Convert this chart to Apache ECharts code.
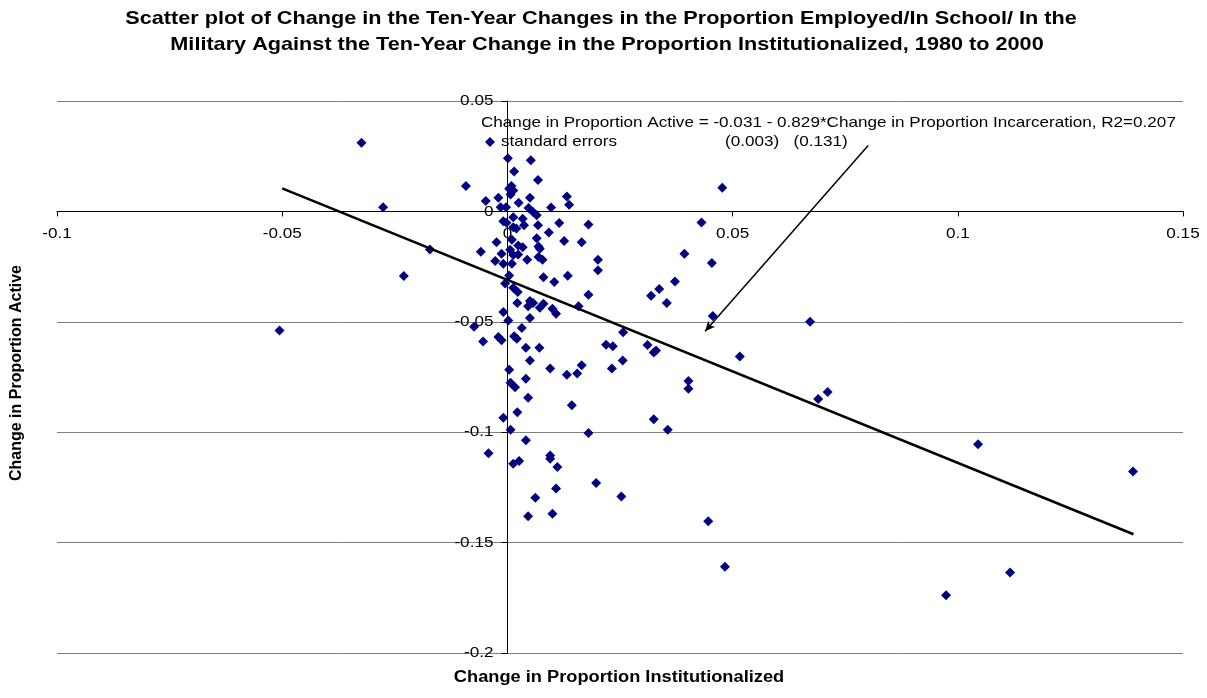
<!DOCTYPE html>
<html>
<head>
<meta charset="utf-8">
<script src="https://cdn.jsdelivr.net/npm/echarts@6/dist/echarts.min.js"></script>
<style>
  html, body { margin: 0; padding: 0; background: #fff; }
  #chart { width: 1207px; height: 698px; }
</style>
</head>
<body>
<div id="chart"></div>
<script>
// Ten-year change in proportion institutionalized (x) for each area
const changeInstitutionalized = [
  -0.0506, -0.0324, -0.0276, -0.0230, -0.0172, -0.0092,
  0.0001, 0.0052, 0.0015, 0.0068, 0.0009, 0.0004, 0.0013, 0.0007, -0.0048, -0.0020,
  0.0025, 0.0050, 0.0132, 0.0137, 0.0097, -0.0015, -0.0003, 0.0047, 0.0057, 0.0065,
  0.0013, 0.0034, -0.0009, -0.0002, 0.0037, 0.0068, 0.0115, 0.0180, 0.0013, 0.0020, 0.0092,
  0.0065, -0.0024, 0.0010, 0.0126, 0.0165, 0.0024, 0.0034, 0.0069, 0.0072, -0.0059,
  -0.0013, 0.0006, 0.0013, 0.0024, 0.0044, 0.0069, 0.0078, 0.0201, -0.0027, -0.0009,
  0.0010, 0.0201, 0.0004, 0.0080, 0.0104, 0.0134, -0.0005, 0.0013, 0.0023, 0.0180,
  0.0022, 0.0050, 0.0057, 0.0046, 0.0080, 0.0072, 0.0100, 0.0108, 0.0158, -0.0009,
  0.0002, 0.0050, -0.0074, 0.0032, 0.0257, -0.0054, -0.0020, -0.0013, 0.0015, 0.0021,
  0.0041, 0.0071, 0.0219, 0.0234, 0.0050, 0.0256, 0.0004, 0.0095, 0.0165, 0.0132,
  0.0155, 0.0232, 0.0041, 0.0007, 0.0017, 0.0046, 0.0143,
  0.0022, -0.0009, 0.0007, 0.0180, 0.0041, -0.0042, 0.0013, 0.0026, 0.0095, 0.0095,
  0.0111, 0.0197, 0.0108, 0.0062, 0.0253, 0.0046, 0.0100,
  0.0477, 0.0431, 0.0393, 0.0454, 0.0372, 0.0337, 0.0319, 0.0354, 0.0456, 0.0672,
  0.0311, 0.0325, 0.0330, 0.0516, 0.0402, 0.0402, 0.0690, 0.0711, 0.0325, 0.0356,
  0.0446, 0.0483,
  0.1045, 0.1389, 0.1116, 0.0974
];

// Ten-year change in proportion active (employed / in school / in the military)
const changeActive = [
  -0.0539, 0.0311, 0.0019, -0.0293, -0.0172, 0.0115,
  0.0241, 0.0232, 0.0181, 0.0142, 0.0115, 0.0103, 0.0095, 0.0076, 0.0047, 0.0062,
  0.0039, 0.0062, 0.0068, 0.0030, 0.0018, 0.0019, 0.0019, 0.0015, -0.0003, -0.0018,
  -0.0026, -0.0033, -0.0045, -0.0051, -0.0063, -0.0063, -0.0053, -0.0059, -0.0072, -0.0078, -0.0096,
  -0.0122, -0.0140, -0.0128, -0.0134, -0.0140, -0.0154, -0.0162, -0.0159, -0.0169, -0.0183,
  -0.0192, -0.0174, -0.0198, -0.0195, -0.0219, -0.0207, -0.0219, -0.0219, -0.0225, -0.0237,
  -0.0237, -0.0267, -0.0290, -0.0298, -0.0320, -0.0291, -0.0327, -0.0346, -0.0365, -0.0377,
  -0.0415, -0.0406, -0.0415, -0.0430, -0.0418, -0.0436, -0.0441, -0.0463, -0.0430, -0.0456,
  -0.0494, -0.0483, -0.0522, -0.0528, -0.0547, -0.0589, -0.0569, -0.0583, -0.0566, -0.0577,
  -0.0617, -0.0617, -0.0604, -0.0611, -0.0675, -0.0675, -0.0717, -0.0712, -0.0697, -0.0740,
  -0.0734, -0.0712, -0.0758, -0.0776, -0.0796, -0.0844, -0.0878,
  -0.0910, -0.0934, -0.0989, -0.1004, -0.1037, -0.1095, -0.1143, -0.1131, -0.1105, -0.1120,
  -0.1158, -0.1230, -0.1255, -0.1297, -0.1291, -0.1381, -0.1369,
  0.0107, -0.0050, -0.0192, -0.0234, -0.0318, -0.0352, -0.0382, -0.0415, -0.0474, -0.0500,
  -0.0605, -0.0639, -0.0630, -0.0657, -0.0768, -0.0803, -0.0850, -0.0818, -0.0941, -0.0989,
  -0.1403, -0.1609,
  -0.1055, -0.1178, -0.1635, -0.1739
];

// Fitted regression: active = intercept + slope * institutionalized
const fitIntercept = -0.031;
const fitSlope = -0.829;
const fitRangeX = [-0.05, 0.139];

// Axis tick values and their printed labels
const xTicks = [-0.1, -0.05, 0, 0.05, 0.1, 0.15];
const xTickLabels = ['-0.1', '-0.05', '0', '0.05', '0.1', '0.15'];
const yTicks = [-0.2, -0.15, -0.1, -0.05, 0, 0.05];
const yTickLabels = ['-0.2', '-0.15', '-0.1', '-0.05', '0', '0.05'];

// Arrow from the equation down to the fitted line (data coordinates)
const arrowFrom = [0.0801, 0.0299];
const arrowTo = [0.0439, -0.0543];

const points = changeInstitutionalized.map((x, i) => [x, changeActive[i]]);
const fitLine = fitRangeX.map(x => [x, fitIntercept + fitSlope * x]);

const FONT = "'Liberation Sans', Arial, sans-serif";
const WIDE = 1.14;   // horizontal text stretch used throughout

const chart = echarts.init(document.getElementById('chart'), null, { renderer: 'canvas' });

chart.setOption({
  animation: false,
  backgroundColor: '#ffffff',
  textStyle: { fontFamily: FONT },
  grid: { left: 57, right: 24, top: 101, bottom: 45, containLabel: false },
  xAxis: {
    type: 'value',
    min: xTicks[0], max: xTicks[xTicks.length - 1], interval: 0.05,
    axisLine: { onZero: true, lineStyle: { color: '#000', width: 1 } },
    axisTick: { show: true, inside: false, length: 5, lineStyle: { color: '#000' } },
    axisLabel: { show: false },
    splitLine: { show: false }
  },
  yAxis: {
    type: 'value',
    min: yTicks[0], max: yTicks[yTicks.length - 1], interval: 0.05,
    axisLine: { onZero: true, lineStyle: { color: '#000', width: 1 } },
    axisTick: { show: true, inside: false, length: 6, lineStyle: { color: '#000' } },
    axisLabel: { show: false },
    splitLine: { show: true, lineStyle: { color: '#808080', width: 1 } }
  },
  series: [
    {
      name: 'standard errors',
      type: 'scatter',
      symbol: 'diamond',
      symbolSize: [10, 10],
      itemStyle: { color: '#000080', opacity: 1 },
      data: points,
      z: 3
    },
    {
      name: 'fit',
      type: 'line',
      data: fitLine,
      showSymbol: false,
      symbol: 'none',
      lineStyle: { color: '#000', width: 2.5 },
      z: 4
    },
    {
      name: 'arrow',
      type: 'line',
      data: [],
      markLine: {
        silent: true,
        symbol: ['none', 'arrow'],
        symbolSize: [7, 10],
        label: { show: false },
        lineStyle: { color: '#000', width: 1.5, type: 'solid' },
        data: [[{ coord: arrowFrom }, { coord: arrowTo }]]
      },
      z: 5
    }
  ]
});

// Text helper: anchored at (x, y), stretched horizontally around the anchor
function label(x, y, text, font, align, extra) {
  return Object.assign({
    type: 'text', x: x, y: y, scaleX: WIDE, z: 2,
    style: { text: text, font: font, fill: '#000', textAlign: align, textVerticalAlign: 'middle' }
  }, extra || {});
}

// Tick labels sit beside the axis lines that cross at zero
const origin = chart.convertToPixel({ gridIndex: 0 }, [0, 0]);
const graphics = [];
xTicks.forEach((v, i) => {
  const p = chart.convertToPixel({ gridIndex: 0 }, [v, 0]);
  graphics.push(label(p[0], origin[1] + 22, xTickLabels[i], '15px ' + FONT, 'center'));
});
yTicks.forEach((v, i) => {
  const p = chart.convertToPixel({ gridIndex: 0 }, [0, v]);
  graphics.push(label(origin[0] - 14, p[1], yTickLabels[i], '15px ' + FONT, 'right'));
});

graphics.push(
  label(601, 19, 'Scatter plot of Change in the Ten-Year Changes in the Proportion Employed/In School/ In the',
        'bold 19px ' + FONT, 'center'),
  label(607, 45, 'Military Against the Ten-Year Change in the Proportion Institutionalized, 1980 to 2000',
        'bold 19px ' + FONT, 'center'),
  label(481, 123, 'Change in Proportion Active = -0.031 - 0.829*Change in Proportion Incarceration, R2=0.207',
        '15px ' + FONT, 'left', { z: 10 }),
  label(725, 142, '(0.003)   (0.131)', '15px ' + FONT, 'left', { z: 10 }),
  label(501, 142, 'standard errors', '15px ' + FONT, 'left', { z: 10 }),
  {
    // legend key for the scatter series
    type: 'polygon', z: 10,
    shape: { points: [[490, 137], [495, 142], [490, 147], [485, 142]] },
    style: { fill: '#000080' }
  },
  label(619, 678, 'Change in Proportion Institutionalized', 'bold 16px ' + FONT, 'center'),
  {
    type: 'text', x: 17, y: 373, rotation: Math.PI / 2,
    style: { text: 'Change in Proportion Active', font: 'bold 16px ' + FONT, fill: '#000',
             textAlign: 'center', textVerticalAlign: 'middle' }
  }
);

chart.setOption({ graphic: graphics });
</script>
</body>
</html>
